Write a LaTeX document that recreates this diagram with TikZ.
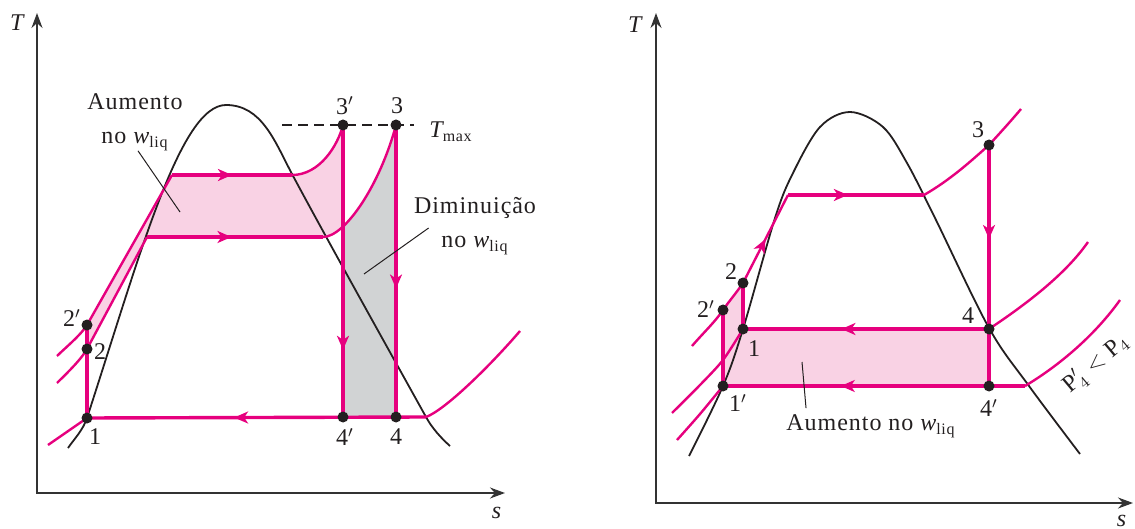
\documentclass[tikz,border=0pt]{standalone}
\usepackage{amsmath}
\usepackage{fontspec}
\setmainfont{Liberation Serif}[LetterSpace=4]
\usetikzlibrary{arrows.meta,decorations.markings}
\definecolor{cyclemag}{HTML}{E6007E}
\definecolor{gainpink}{HTML}{F9D2E4}
\definecolor{lossgray}{HTML}{D1D3D4}
\definecolor{domeblk}{HTML}{231F20}
\definecolor{axgray}{HTML}{333333}

\begin{document}
\begin{tikzpicture}[x=0.5pt,y=-0.5pt,
  >={Stealth[length=7.5pt,width=5.5pt]},
  font=\fontsize{12}{17}\selectfont,
  axis/.style={axgray,line width=0.7pt,<->},
  dome/.style={domeblk,line width=0.9pt},
  isobar/.style={cyclemag,line width=1.2pt},
  procline/.style={cyclemag,line width=1.7pt},
  flow/.style={postaction={decorate,decoration={markings,
      mark=at position #1 with {\arrow{Stealth[length=7pt,width=6pt,inset=2pt]}}}}},
  flow/.default=0.5,
  statedot/.style={circle,fill=domeblk,inner sep=0pt,minimum size=5.5pt},
  lbl/.style={text=domeblk,inner sep=1pt},
  leader/.style={domeblk,line width=0.5pt}]

  \useasboundingbox (0,0) rectangle (1135,529);

  % =====================================================================
  % LEFT PANEL -- superheating to T_max
  % =====================================================================
  \coordinate (L1)  at (87,418);
  \coordinate (L2)  at (87,349);
  \coordinate (L2p) at (87,325);
  \coordinate (L3p) at (343,125);
  \coordinate (L3)  at (396,125);
  \coordinate (L4p) at (343,417);
  \coordinate (L4)  at (396,417);

  % gain area (pink)
  \begin{scope}
    \clip (0,0) rectangle (343,529);
    \fill[gainpink] (L2p) -- (172,175) -- (292,175)
          .. controls (320,175) and (338,145) .. (L3p) -- (L3)
          .. controls (380,185) and (345,237) .. (323,237) -- (147,237) -- (L2) -- cycle;
  \end{scope}
  % loss area (gray)
  \begin{scope}
    \clip (343,0) rectangle (396,529);
    \fill[lossgray] (L3) .. controls (380,185) and (345,237) .. (323,237)
          -- (323,417) -- (L4) -- cycle;
  \end{scope}

  % axes
  \draw[axis] (37,13) -- (37,493) -- (505,493);
  \node[lbl] (LT) at (18,23) {\textit{T}};
  \node[lbl] (Ls) at (497,513) {\textit{s}};

  % saturation dome
  \draw[dome] (68,448) .. controls (75,438) and (83,430) .. (87,418)
        .. controls (140,255) and (180,105) .. (226,105)
        .. controls (262,105) and (275,142) .. (292,174)
        .. controls (330,245) and (400,370) .. (426,417)
        .. controls (432,428) and (441,438) .. (450,446);

  % isobars
  \draw[isobar] (57,356) .. controls (64,349) and (81,335) .. (L2p) -- (172,175);
  \draw[isobar] (292,175) .. controls (320,175) and (338,145) .. (L3p);
  \draw[isobar] (57,383) .. controls (64,376) and (81,360) .. (L2) -- (147,237);
  \draw[isobar] (323,237) .. controls (345,237) and (380,185) .. (L3);
  \draw[isobar] (48,445) -- (L1);
  \draw[isobar] (426,417) .. controls (445,410) and (490,366) .. (520,331);

  % cycle processes
  \draw[procline] (L1) -- (L2p);
  \draw[procline,flow] (172,175) -- (292,175);
  \draw[procline,flow=0.48] (147,237) -- (323,237);
  \draw[procline,flow=0.77] (L3p) -- (L4p);
  \draw[procline,flow=0.56] (L3) -- (L4);
  \draw[procline,flow=0.566] (426,417) -- (L1);

  % T_max line
  \coordinate (tmaxA) at (282,125);
  \coordinate (tmaxB) at (414,125);
  \draw[domeblk,line width=0.6pt,dash pattern=on 5pt off 3pt] (tmaxA) -- (tmaxB);
  \node[lbl,anchor=west] (Ltmax) at (427,132) {$\textit{T}_{\text{max}}$};

  % state points
  \foreach \p in {L1,L2,L2p,L3p,L3,L4p,L4}
    \node[statedot] (\p dot) at (\p) {};

  % state labels
  \node[lbl] (Ln1)  at (95,437) {1};
  \node[lbl] (Ln2)  at (100,352) {2};
  \node[lbl] (Ln2p) at (72,318) {2$'$};
  \node[lbl] (Ln3p) at (345,106) {3$'$};
  \node[lbl] (Ln3)  at (397,106) {3};
  \node[lbl] (Ln4p) at (345,437) {4$'$};
  \node[lbl] (Ln4)  at (396,437) {4};

  % annotations
  \node[lbl,align=center] (Laum) at (135,122) {Aumento\\no $\textit{w}_{\text{liq}}$};
  \coordinate (LaumTip) at (180,212);
  \draw[leader] ([shift={(3,-2)}]Laum.south) -- (LaumTip);
  \node[lbl,align=center] (Ldim) at (475,226) {Diminuição\\no $\textit{w}_{\text{liq}}$};
  \coordinate (LdimTip) at (364,274);
  \draw[leader] ([shift={(17,2)}]Ldim.west) -- (LdimTip);

  % =====================================================================
  % RIGHT PANEL -- lowering the condenser pressure
  % =====================================================================
  \coordinate (R1)  at (743,329);
  \coordinate (R1p) at (723,386);
  \coordinate (R2)  at (743,283);
  \coordinate (R2p) at (723,310);
  \coordinate (R3)  at (989,145);
  \coordinate (R4)  at (989,329);
  \coordinate (R4p) at (989,386);

  % gain area (pink)
  \fill[gainpink] (R1p) -- (R2p) .. controls (730,300) and (737,292) .. (R2)
        -- (R1) -- (R4) -- (R4p) -- cycle;

  % axes
  \draw[axis] (656,13) -- (656,503) -- (1133,503);
  \node[lbl] (RT) at (636,25) {\textit{T}};
  \node[lbl] (Rs) at (1122,521) {\textit{s}};

  % saturation dome
  \draw[dome] plot[smooth,tension=0.55] coordinates {(689,456) (723,386) (743,329)
      (775,218) (793,173) (820,127) (850,112) (883,127) (907,163) (935,218)
      (989,328) (1029,386) (1080,454)};

  % isobars
  \draw[isobar] (692,346) .. controls (705,331) and (715,322) .. (R2p)
        .. controls (730,300) and (737,292) .. (R2);
  \draw[isobar,flow] (R2) -- (788,195);
  \draw[isobar] (924,195) .. controls (950,180) and (970,162) .. (R3)
        .. controls (1000,133) and (1010,122) .. (1021,109);
  \draw[isobar] plot[smooth] coordinates {(672,413) (700,385) (723,360) (743,329)};
  \draw[isobar] (R4) .. controls (1025,305) and (1065,275) .. (1088,242);
  \draw[isobar] plot[smooth] coordinates {(677,440) (700,414) (723,386)};
  \draw[isobar] (1025,386) .. controls (1060,365) and (1095,335) .. (1120,300);

  % cycle processes
  \draw[procline] (R2p) -- (R1p);
  \draw[procline] (R2) -- (R1);
  \draw[procline,flow=0.44] (788,195) -- (924,195);
  \draw[procline,flow=0.39] (R3) -- (R4p);
  \draw[procline,flow=0.6] (R4) -- (R1);
  \draw[procline,flow=0.61] (1025,386) -- (R1p);

  % state points
  \foreach \p in {R1,R1p,R2,R2p,R3,R4,R4p}
    \node[statedot] (\p dot) at (\p) {};

  % state labels
  \node[lbl] (Rn1)  at (754,349) {1};
  \node[lbl] (Rn1p) at (738,403) {1$'$};
  \node[lbl] (Rn2)  at (731,272) {2};
  \node[lbl] (Rn2p) at (706,309) {2$'$};
  \node[lbl] (Rn3)  at (978,130) {3};
  \node[lbl] (Rn4)  at (968,316) {4};
  \node[lbl] (Rn4p) at (989,408) {4$'$};

  % annotations
  \node[lbl,rotate=40] (Rpress) at (1096,364) {$\text{P}'_4 < \text{P}_4$};
  \node[lbl] (Raum) at (871,426) {Aumento no $\textit{w}_{\text{liq}}$};
  \coordinate (RaumTip) at (802,362);
  \draw[leader] ([shift={(22,-4)}]Raum.north west) -- (RaumTip);

\end{tikzpicture}
\end{document}
